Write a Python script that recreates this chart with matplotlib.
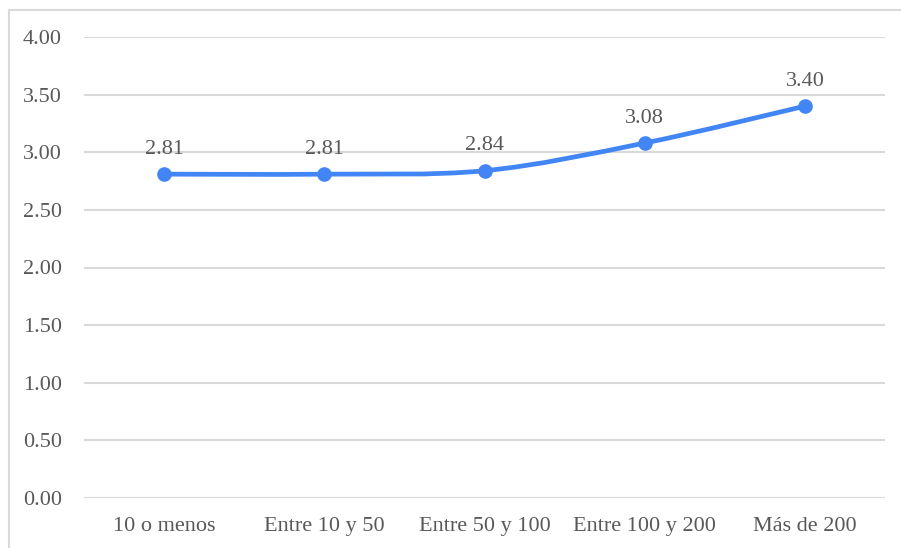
import matplotlib
matplotlib.use('Agg')
import matplotlib.pyplot as plt
from matplotlib.path import Path
from matplotlib.patches import PathPatch
import numpy as np

categories = ['10 o menos', 'Entre 10 y 50', 'Entre 50 y 100', 'Entre 100 y 200', 'Más de 200']
values = [2.81, 2.81, 2.84, 3.08, 3.40]
yticks = [0.0, 0.5, 1.0, 1.5, 2.0, 2.5, 3.0, 3.5, 4.0]

blue = '#4285F4'
text_gray = '#595959'
grid_gray = '#D9D9D9'

plt.rcParams['font.family'] = ['Liberation Serif', 'DejaVu Serif']

fig = plt.figure(figsize=(9.01, 5.48), dpi=100)
ax = fig.add_axes([84 / 901, 1 - 498 / 548, 801 / 901, 461 / 548])

x = np.arange(len(categories))
y = np.array(values)

# smoothed line like the spreadsheet "smooth line" option (bezier through the points)
verts = [(x[0], y[0])]
codes = [Path.MOVETO]
n = len(x)
for i in range(n - 1):
    p0 = np.array([x[max(i - 1, 0)], y[max(i - 1, 0)]])
    p1 = np.array([x[i], y[i]])
    p2 = np.array([x[i + 1], y[i + 1]])
    p3 = np.array([x[min(i + 2, n - 1)], y[min(i + 2, n - 1)]])
    c1 = p1 + (p2 - p0) / 6
    c2 = p2 - (p3 - p1) / 6
    verts += [tuple(c1), tuple(c2), tuple(p2)]
    codes += [Path.CURVE4] * 3
ax.add_patch(PathPatch(Path(verts, codes), facecolor='none', edgecolor=blue,
                       lw=3.4, capstyle='round', zorder=3))
ax.plot(x, y, linestyle='none', marker='o', markersize=9.5, color=blue, zorder=4)

for xi, yi in zip(x, y):
    ax.annotate(f'{yi:.2f}', (xi, yi), xytext=(0, 18), textcoords='offset points',
                ha='center', va='center', fontsize=16, color=text_gray)

ax.set_xlim(-0.5, len(categories) - 0.5)
ax.set_ylim(0, 4)
ax.set_yticks(yticks)
ax.set_yticklabels([f'{t:.2f}' for t in yticks])
ax.set_xticks(x)
ax.set_xticklabels(categories)
ax.tick_params(axis='both', length=0, labelsize=16, labelcolor=text_gray)
ax.tick_params(axis='y', pad=16)
ax.tick_params(axis='x', pad=14)
ax.grid(axis='y', color=grid_gray, lw=1.5)
ax.set_axisbelow(True)
for s in ax.spines.values():
    s.set_visible(False)

# outer chart border (only top and left edges visible in the crop)
fig.add_artist(plt.Line2D([9 / 901, 9 / 901], [0, 1 - 10 / 548], transform=fig.transFigure,
                          color='#D9D9D9', lw=1.5))
fig.add_artist(plt.Line2D([9 / 901, 1], [1 - 10 / 548, 1 - 10 / 548], transform=fig.transFigure,
                          color='#D9D9D9', lw=1.5))

fig.savefig('out.png', dpi=100)
